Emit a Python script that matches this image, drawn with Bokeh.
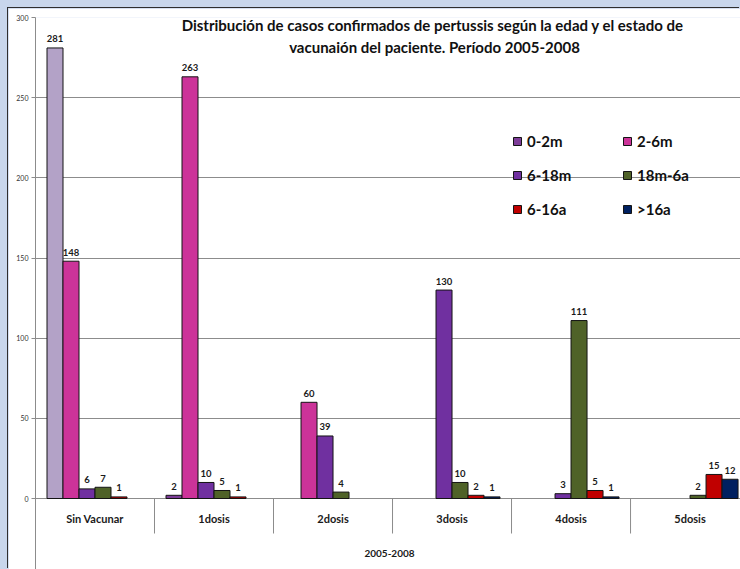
from bokeh.plotting import figure
from bokeh.models import Range1d, ColumnDataSource, Label, Legend, LegendItem, FixedTicker
from bokeh.core.properties import value
from bokeh.embed import file_html
from bokeh.resources import INLINE

# ---------------- data ----------------
categories = ["Sin Vacunar", "1dosis", "2dosis", "3dosis", "4dosis", "5dosis"]
series_names = ["0-2m", "2-6m", "6-18m", "18m-6a", "6-16a", ">16a"]
s_0_2m = [281, 2, 0, 0, 0, 0]
s_2_6m = [148, 263, 60, 0, 0, 0]
s_6_18m = [6, 10, 39, 130, 3, 0]
s_18m_6a = [7, 5, 4, 10, 111, 2]
s_6_16a = [1, 1, 0, 2, 5, 15]
s_16a = [0, 0, 0, 1, 1, 12]
series_values = [s_0_2m, s_2_6m, s_6_18m, s_18m_6a, s_6_16a, s_16a]
y_ticks = [0, 50, 100, 150, 200, 250, 300]
title_lines = ["Distribución de casos confirmados  de pertussis según la edad y el estado de",
               "vacunaión del paciente. Período 2005-2008"]
group_title = "2005-2008"

# ---------------- style ----------------
colors = ["#7d3c98", "#cc3399", "#7030a0", "#4f6228", "#c00000", "#002060"]
highlight_color = "#b3a2c7"  # first point of the first series is shown lighter
FONT = "Lato"
GRID = "#8c8c8c"
BAR_W = 16 / 119.0
GROUP_START = 11.5 / 119.0
PX_PER_UNIT = 481 / 300.0

p = figure(width=732, height=561,
           x_range=Range1d(0, 5.924), y_range=Range1d(-44.28, 300),
           x_axis_type=None, output_backend="svg", toolbar_location=None,
           min_border_left=27, min_border_right=0, min_border_top=9, min_border_bottom=0)
p.outline_line_color = None
p.background_fill_color = "white"
p.border_fill_color = "white"
p.styles = {"margin-left": "8px", "margin-top": "8px",
            "box-shadow": "-1px -1px 0 0 #2e2e2e"}

# y axis
p.yaxis.ticker = FixedTicker(ticks=y_ticks)
p.yaxis.minor_tick_line_color = None
p.yaxis.major_tick_in = 0
p.yaxis.major_tick_out = 4
p.yaxis.axis_line_color = GRID
p.yaxis.major_tick_line_color = GRID
p.yaxis.major_label_standoff = 3
p.yaxis.major_label_text_font = FONT
p.yaxis.major_label_text_font_size = "7px"
p.yaxis.major_label_text_color = "#333333"
p.ygrid.ticker = FixedTicker(ticks=y_ticks)
p.ygrid.grid_line_color = GRID

# bars
legend_items = []
lab_x, lab_y, lab_t = [], [], []
for j, (name, vals) in enumerate(zip(series_names, series_values)):
    xs, tops, cols = [], [], []
    for i, v in enumerate(vals):
        if v > 0:
            x = i + GROUP_START + BAR_W * (j + 0.5)
            xs.append(x)
            tops.append(v)
            cols.append(highlight_color if (j == 0 and i == 0) else colors[j])
            lab_x.append(x)
            lab_y.append(v)
            lab_t.append(str(v))
    src = ColumnDataSource(dict(x=xs, top=tops, color=cols))
    r = p.vbar(x="x", top="top", bottom=0, width=BAR_W, source=src,
               fill_color="color", line_color="#141414", line_width=1)
    legend_items.append(LegendItem(label=name, renderers=[r], index=1 if j == 0 else 0))

# data labels
p.text(x="x", y="y", text="t", source=ColumnDataSource(dict(x=lab_x, y=lab_y, t=lab_t)),
       text_align="center", text_baseline="alphabetic", y_offset=-9,
       text_font=value(FONT), text_font_style="bold", text_font_size="9.5px",
       text_color="#1a1a1a")

# category axis (multi-level look)
bounds = list(range(1, len(categories)))
p.segment(x0=bounds, y0=[0] * len(bounds), x1=bounds, y1=[-35 / PX_PER_UNIT] * len(bounds),
          line_color=GRID, line_width=1)
p.text(x=[i + 0.5 for i in range(len(categories))], y=[0] * len(categories), text=categories,
       text_align="center", text_baseline="middle", y_offset=20,
       text_font=value(FONT), text_font_style="bold", text_font_size="11px",
       text_color="#1a1a1a")
p.add_layout(Label(x=354, y=16, x_units="screen", y_units="screen", text=group_title,
                   text_align="center", text_baseline="middle", text_font=FONT,
                   text_font_style="bold", text_font_size="10px", text_color="#1a1a1a"))

# title
for line, yy in zip(title_lines, [545, 523]):
    p.add_layout(Label(x=399, y=yy, x_units="screen", y_units="screen", text=line,
                       text_align="center", text_baseline="alphabetic", text_font=FONT,
                       text_font_style="bold", text_font_size="15px", text_color="#111111"))

# legend
legend = Legend(items=legend_items, orientation="horizontal", ncols=2,
                location=(477, 351), padding=0, margin=0, spacing=16,
                glyph_width=10, glyph_height=10, label_standoff=5,
                label_width=79, label_height=10,
                label_text_font=FONT, label_text_font_style="bold",
                label_text_font_size="15px", label_text_color="#111111",
                background_fill_alpha=0, border_line_color=None)
p.add_layout(legend)

html = file_html(p, INLINE)
html = html.replace("</head>", "<style>html,body{background:#c8d6ec;}</style></head>", 1)
open("out.html", "w").write(html)
